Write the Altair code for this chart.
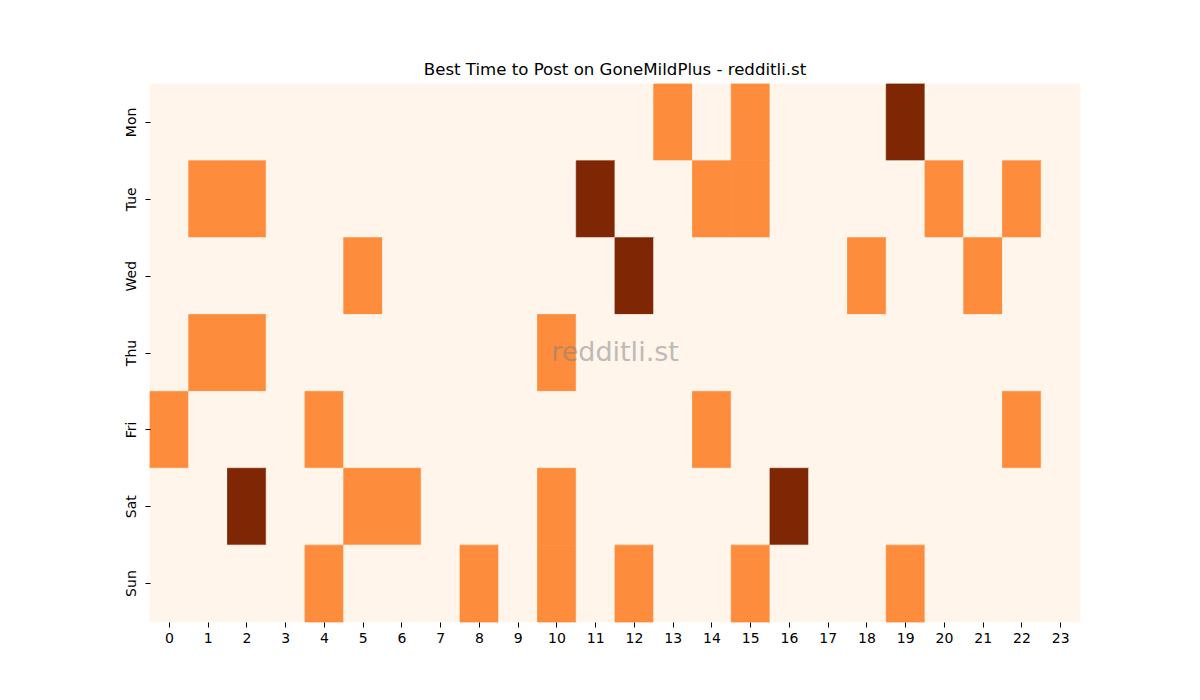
import altair as alt
import pandas as pd

days = ["Mon", "Tue", "Wed", "Thu", "Fri", "Sat", "Sun"]
hours = list(range(24))

# 0 = no posts, 1 = some, 2 = best
mon = [0, 0, 0, 0, 0, 0, 0, 0, 0, 0, 0, 0, 0, 1, 0, 1, 0, 0, 0, 2, 0, 0, 0, 0]
tue = [0, 1, 1, 0, 0, 0, 0, 0, 0, 0, 0, 2, 0, 0, 1, 1, 0, 0, 0, 0, 1, 0, 1, 0]
wed = [0, 0, 0, 0, 0, 1, 0, 0, 0, 0, 0, 0, 2, 0, 0, 0, 0, 0, 1, 0, 0, 1, 0, 0]
thu = [0, 1, 1, 0, 0, 0, 0, 0, 0, 0, 1, 0, 0, 0, 0, 0, 0, 0, 0, 0, 0, 0, 0, 0]
fri = [1, 0, 0, 0, 1, 0, 0, 0, 0, 0, 0, 0, 0, 0, 1, 0, 0, 0, 0, 0, 0, 0, 1, 0]
sat = [0, 0, 2, 0, 0, 1, 1, 0, 0, 0, 1, 0, 0, 0, 0, 0, 2, 0, 0, 0, 0, 0, 0, 0]
sun = [0, 0, 0, 0, 1, 0, 0, 0, 1, 0, 1, 0, 1, 0, 0, 1, 0, 0, 0, 1, 0, 0, 0, 0]

levels = [0, 1, 2]
level_colors = ["#fff5eb", "#fd8d3c", "#7f2704"]

rows = []
for day, vals in zip(days, [mon, tue, wed, thu, fri, sat, sun]):
    for h, v in zip(hours, vals):
        rows.append({"day": day, "hour": h, "value": v})
df = pd.DataFrame(rows)

W, H = 930, 538
FONT = "DejaVu Sans"
cscale = alt.Scale(domain=levels, range=level_colors)

heat = alt.Chart(df).mark_rect(strokeWidth=0.8).encode(
    x=alt.X("hour:O", sort=hours, title=None,
            scale=alt.Scale(paddingInner=0, paddingOuter=0),
            axis=alt.Axis(labelAngle=0, domain=False, tickSize=5, tickColor="black",
                          labelFontSize=14, labelColor="black", labelFont=FONT,
                          labelPadding=4)),
    y=alt.Y("day:O", sort=days, title=None,
            scale=alt.Scale(paddingInner=0, paddingOuter=0),
            axis=alt.Axis(labelAngle=270, domain=False, tickSize=5, tickColor="black",
                          labelFontSize=14, labelColor="black", labelFont=FONT,
                          labelAlign="center", labelBaseline="bottom", labelPadding=7)),
    color=alt.Color("value:O", scale=cscale, legend=None),
    stroke=alt.Stroke("value:O", scale=cscale, legend=None),
)

mark = alt.Chart(pd.DataFrame({"t": ["redditli.st"]})).mark_text(
    fontSize=27, font=FONT, color="#808080", opacity=0.5,
    align="center", baseline="middle",
).encode(x=alt.value(W / 2), y=alt.value(H / 2), text="t:N")

chart = (heat + mark).properties(
    width=W, height=H,
    title=alt.TitleParams("Best Time to Post on GoneMildPlus - redditli.st",
                          fontSize=16.6, font=FONT, fontWeight="normal",
                          color="black", anchor="middle", offset=5),
    autosize=alt.AutoSizeParams(type="none"),
    padding={"left": 142, "top": 76, "right": 100, "bottom": 60},
).configure_view(strokeWidth=0)

chart.save("out.html", embed_options={"renderer": "svg", "actions": False})
